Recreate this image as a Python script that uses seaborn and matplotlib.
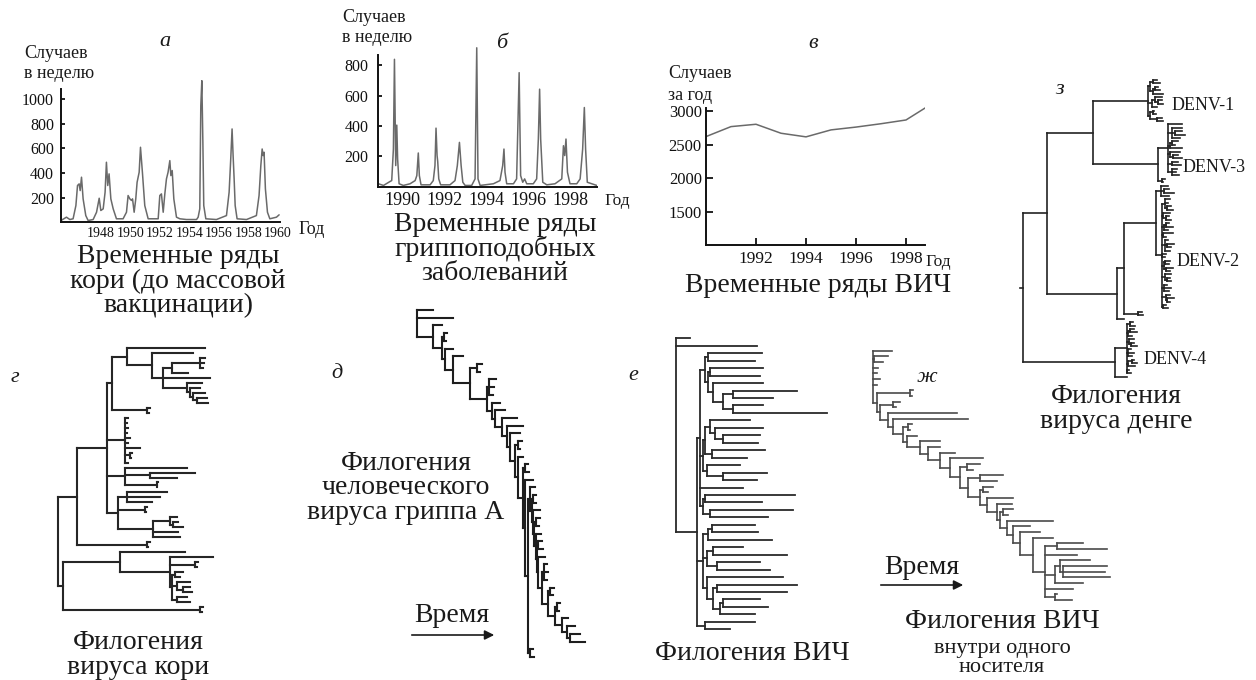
import matplotlib
matplotlib.use("Agg")
import matplotlib.pyplot as plt
from matplotlib.collections import LineCollection
import pandas as pd
import seaborn as sns

# ---------------- data: time series ----------------
measles_year = [1945.30, 1945.67, 1945.90,
                1946.12, 1946.31, 1946.42, 1946.53, 1946.60, 1946.69, 1946.80, 1946.98, 1947.14, 1947.48,
                1947.71, 1947.89, 1948.00, 1948.16, 1948.29, 1948.38, 1948.47, 1948.56, 1948.68, 1948.84, 1949.06,
                1949.51, 1949.74, 1949.85, 1949.97, 1950.08, 1950.15, 1950.26, 1950.37, 1950.46, 1950.60, 1950.69,
                1950.82, 1950.98, 1951.21,
                1951.89, 1952.00, 1952.11, 1952.23, 1952.34, 1952.45, 1952.56, 1952.68, 1952.75, 1952.84, 1952.95,
                1953.13, 1953.36, 1953.81,
                1954.49, 1954.60, 1954.71, 1954.78, 1954.85, 1954.92, 1954.98, 1955.12, 1955.84,
                1956.52, 1956.70, 1956.81, 1956.90, 1956.97, 1957.04, 1957.11, 1957.24, 1957.88,
                1958.55, 1958.73, 1958.85, 1958.94, 1959.01, 1959.07, 1959.16, 1959.30, 1959.46, 1959.91, 1960.09]
measles_cases = [16, 43, 24,
                 30, 137, 299, 312, 258, 366, 191, 56, 16, 24,
                 83, 196, 97, 110, 245, 487, 299, 393, 191, 110, 30,
                 30, 83, 218, 191, 178, 191, 83, 191, 325, 406, 608,
                 406, 137, 30,
                 30, 218, 231, 83, 231, 352, 406, 500, 379, 420, 191,
                 43, 30, 24,
                 24, 43, 110, 944, 1146, 648, 137, 30, 24,
                 56, 245, 514, 756, 541, 352, 137, 30, 24,
                 56, 218, 460, 594, 541, 568, 272, 83, 30, 43, 62]

flu_year = [1988.88, 1989.12, 1989.43, 1989.51, 1989.59, 1989.64, 1989.70, 1989.75, 1989.79, 1989.86, 1990.06,
            1990.38, 1990.62, 1990.70, 1990.77, 1990.82, 1990.90,
            1991.33, 1991.48, 1991.56, 1991.61, 1991.66, 1991.69, 1991.74, 1991.83,
            1992.27, 1992.51, 1992.62, 1992.72, 1992.80, 1992.88, 1992.99,
            1993.30, 1993.46, 1993.54, 1993.60, 1993.70,
            1994.33, 1994.64, 1994.77, 1994.83, 1994.88, 1994.96,
            1995.28, 1995.43, 1995.55, 1995.62, 1995.72, 1995.81, 1995.91,
            1996.22, 1996.38, 1996.46, 1996.52, 1996.57, 1996.67, 1996.86,
            1997.25, 1997.46, 1997.57, 1997.65, 1997.71, 1997.77, 1997.84, 1997.96,
            1998.28, 1998.44, 1998.56, 1998.64, 1998.70, 1998.78, 1999.23]
flu_cases = [18, 7, 33, 39, 247, 839, 138, 405, 182, 18, 7,
             18, 39, 72, 221, 72, 11,
             11, 39, 138, 385, 204, 166, 50, 11,
             11, 39, 138, 291, 138, 28, 7,
             7, 50, 915, 50, 7,
             18, 39, 138, 247, 94, 18,
             18, 50, 751, 72, 28, 50, 18,
             18, 50, 313, 642, 313, 28, 11,
             18, 39, 50, 269, 204, 313, 94, 18,
             18, 50, 247, 521, 247, 28, 7]

hiv_year = [1990, 1991, 1992, 1993, 1994, 1995, 1996, 1997, 1998, 1999]
hiv_cases = [2618, 2767, 2802, 2668, 2614, 2718, 2760, 2810, 2866, 3100]

# ---------------- data: trees (Newick, branch lengths) ----------------
MEASLES_W = "(((:1.5,:1.2,:1):8.5,:5):2.5,:14,(:4.5,(:3,(:3.5,(:3,:3.5):1):1):1):7):3.5"
MEASLES_V = "(:12.5," + MEASLES_W + "):7.5"
MEASLES_U = "(:23.5," + MEASLES_V + "):4.5"
MEASLES_T = "(" + MEASLES_U + ",(:1,:0.8):10.5):1.5"
MEASLES_M1 = "(:1,:0.6,:0.9,:0.5,:1.6,:1,:4.5,(:0.6,:0.4):1.5,:0.8):5.5"
MEASLES_M2 = "(:18.5,(:13.5,:8):7.5,(:0.4,:0.2):9.5):5.5"
MEASLES_M3 = "((:12,:10,:7.5):2.5,(:0.6,:0.3):8,((:2,(:1.5,:3):1):5,:7.5,:8):10.5):3.5"
MEASLES_A = ("((" + MEASLES_T + "," + MEASLES_M1 + "," + MEASLES_M2 + "," + MEASLES_M3 + "):9,"
             "(:1,:0.5):21):5.5")
MEASLES_B = ("((:19.5,(:13,(:0.8,:0.6):7.5,((:2.5,:1.5):1,(:4,(:2,:2.5):2):1.5,(:3,:4):1.5):0.5):15):17,"
             "(:1,:0.6):41):1.5")
MEASLES_TREE = "(" + MEASLES_A + "," + MEASLES_B + ")"

FLU_STEPS = [(":5,:11", 5), (":2.5", 2.5), ("(:1,:0.8):0.6", 1), (":2.5", 2.5), (":3", 5),
             ("(:1.5,:1):2", 5), ("(:2,:1.5,:1.2):0.8", 1.5), (":2.5", 1), (":3", 2), (":4.5", 1.5),
             (":5", 1), (":3", 1.5), ("(:1.2,:0.8):0.8", 1), (":1.5", 1.5), ("(:1,:1.3):0.5", 0.5),
             (":2.5", 1)]
FLU_TAIL_STEPS = [(":1.5", 0.5), ("(:0.8,:1):0.4", 0.5), (":2", 0.3), ("(:1,:0.8):0.6", 0.4),
                  (":1.5", 0.3), ("(:1.2,:1.5):0.5", 0.5), (":2", 1), ("(:1,:1.4,:0.9):0.6", 2),
                  ("(:1.2,:0.8):0.5", 2), ("(:1,:0.7):0.6", 2), (":2", 1.5)]
FLU_TAIL_END = "(:2.5,(:3,:4.5):1)"
FLU_BOTTOM = "(:0.8,:1.2):0.6"

HIV_A1 = "((:1.6,:1.4):0.1,((:1.6,:1.5):0.05,(:1.5,((:1.9,:1.2):0.3,(:0.9,:2.8):0.3):0.3):0.15):0.1):0.15"
HIV_A2 = "(((:1.2,(:1.45,(:1.1,:1.05):0.25):0.15):0.15,(:1.6,:1.05):0.2):0.05,(:1.0,(:1.3,:1.0):0.5):0.1):0.1"
HIV_A3 = "((:2.7,:1.7):0.05,(:2.5,:1.75):0.2):0.1"
HIV_B = ("(((:1.3,:1.4):0.1,:1.9):0.15,((:0.9,:2.2):0.2,(:1.3,:1.6):0.3):0.1,"
         "(:2.3,((:2.4,:2.1):0.1,((:1.1,:1.35):0.1,:1.05):0.2):0.2):0.1):0.2")
HIV_C = "(:1.5,:0.75):0.25"
HIV_TREE = ("(:0.42,:2.42,((" + HIV_A1 + "," + HIV_A2 + ",:1.3," + HIV_A3 + "):0.1,"
            + HIV_B + "," + HIV_C + "):0.62)")

HOST_STEPS = [(":5.5,(:4,:2.5):0.3,:1.5,:1,:2,:1", 1), ("(:1,:0.5):10", 1), ("(:2,:0.8):4", 2.5),
              (":20.5", 1.5), (":22.5", 3), ("(:1,:0.6):1.5", 1), (":3", 4), (":6", 2.5), (":3.5", 3.5),
              (":4.5", 3), (":10", 3), ("(:4,:2):2", 2.5), ("(:7,:5):3.5", 3.5), ("(:3,:1.5):1", 2),
              (":8", 3), (":4.5", 1), ("(:3,:1.5):1", 2), (":14", 2), (":5", 2), (":6", 4)]
HOST_END = "(:6,((:8,:15):3.5,:9.5,((:9,(:13,:12.5,:14):1):1.5,:8.5):3,:8.5,(:0.5,:5):3):3.5)"

DENV1 = ("(((:0.12,:0.2):0.1,((:0.1,:0.15):0.05,:0.3):0.1):0.05,((:0.2,(:0.1,:0.15):0.1):0.1,:0.15):0.1,"
         "((:0.05,:0.1):0.08,(:0.15,:0.2):0.2):0.05):1.65")
DENV3 = ("((:0.4,(:0.3,(:0.2,:0.3):0.1,:0.25):0.1,((:0.2,:0.1):0.05,:0.35):0.05,(:0.3,(:0.15,:0.25):0.1):0.05,"
         "(:0.2,:0.28):0.1,(:0.15,:0.1,:0.2):0.12):0.3,(:0.1,:0.05):0.1):1.95")
DENV2_TWIGS = ("(:0.15,:0.1,(:0.12,:0.2):0.05):0.1,(:0.2,(:0.1,:0.15):0.08):0.05,((:0.1,:0.22):0.05,:0.12):0.08,"
               "(:0.3,:0.1):0.04,(:0.1,(:0.2,:0.12):0.06,:0.15):0.1,(:0.12,:0.08):0.02,"
               "((:0.15,:0.1):0.05,(:0.2,:0.1):0.08):0.06,(:0.18,(:0.1,:0.14):0.05):0.1,(:0.1,:0.2,:0.15):0.07,"
               "(:0.12,(:0.2,:0.1):0.04):0.12,(:0.08,:0.15):0.05")
DENV2 = "((:0.2,(:0.15,:0.3):0.1,:0.25):0.15,(" + DENV2_TWIGS + "):0.17):0.95"
DENV4 = ("(((:0.1,:0.15):0.1,((:0.12,:0.2):0.05,:0.1):0.05,(:0.15,(:0.1,:0.18):0.05):0.08,(:0.1,:0.2,:0.12):0.03,"
         "((:0.08,:0.15):0.1,:0.2):0.05,(:0.05,:0.1):0.02):0.35,:0.35):2.75")
DENGUE_TREE = ("(((" + DENV1 + "," + DENV3 + "):1.4,((" + DENV2 + ",(:0.12,:0.17):0.4):0.23,:0.22):2.1):0.7,"
               + DENV4 + "):0.1")

dengue_labels = ["DENV-1", "DENV-3", "DENV-2", "DENV-4"]


# ---------------- helpers ----------------
def ladder(steps, terminal):
    s = terminal
    for sides, t in reversed(steps):
        s = "(" + sides + "," + s + ":" + str(t) + ")"
    return s


def parse_newick(s):
    s = s.strip().rstrip(";")
    pos = [0]

    def node():
        children = []
        if s[pos[0]] == "(":
            pos[0] += 1
            children.append(node())
            while s[pos[0]] == ",":
                pos[0] += 1
                children.append(node())
            pos[0] += 1  # ')'
        length = 0.0
        if pos[0] < len(s) and s[pos[0]] == ":":
            pos[0] += 1
            start = pos[0]
            while pos[0] < len(s) and s[pos[0]] not in ",)":
                pos[0] += 1
            length = float(s[start:pos[0]])
        return {"len": length, "children": children}

    return node()


def tree_segments(tree, x_start):
    counter = [0]
    segs = []

    def rec(n, px):
        x = px + n["len"]
        if n["children"]:
            ys = [rec(c, x) for c in n["children"]]
            y = (ys[0] + ys[-1]) / 2.0
            segs.append([(x, ys[0]), (x, ys[-1])])
        else:
            y = counter[0]
            counter[0] += 1
        if n["len"] > 0:
            segs.append([(px, y), (x, y)])
        return y

    rec(tree, x_start)
    return segs, counter[0]


W, H = 1256, 680
fig = plt.figure(figsize=(W / 100, H / 100), dpi=100)
sns.set_theme(style="white")
plt.rcParams["font.family"] = ["Liberation Serif", "DejaVu Serif"]
fig.patch.set_facecolor("white")


def rect(x0, y0, x1, y1):
    return [x0 / W, 1 - y1 / H, (x1 - x0) / W, (y1 - y0) / H]


def style_ts(ax, xlim, ylim, ytop, xticks, yticks, xfs, yfs, xpad, ypad, xlen, ylen):
    ax.set_xlim(*xlim)
    ax.set_ylim(*ylim)
    for s in ["top", "right"]:
        ax.spines[s].set_visible(False)
    for s in ["left", "bottom"]:
        ax.spines[s].set_color("#111111")
        ax.spines[s].set_linewidth(1.4)
    ax.spines["left"].set_bounds(ylim[0], ytop)
    ax.set_xticks(xticks)
    ax.set_yticks(yticks)
    ax.tick_params(axis="x", labelsize=xfs, pad=xpad, length=xlen, direction="in", width=1.3,
                   color="#111111", labelcolor="#111111", bottom=True)
    ax.tick_params(axis="y", labelsize=yfs, pad=ypad, length=ylen, direction="in", width=1.3,
                   color="#111111", labelcolor="#111111", left=True)
    ax.set_xlabel("")
    ax.set_ylabel("")
    ax.set_facecolor("none")
    ax.grid(False)


LINE_GREY = "#6a6a6a"

# panel a: measles
ax_a = fig.add_axes(rect(61, 80.2, 280, 222.5))
sns.lineplot(data=pd.DataFrame({"year": measles_year, "cases": measles_cases}), x="year", y="cases",
             ax=ax_a, color=LINE_GREY, linewidth=1.1, estimator=None)
style_ts(ax_a, (1945.3, 1960.15), (0, 1150), 1080, list(range(1948, 1961, 2)), [200, 400, 600, 800, 1000],
         10, 11.5, 3, 5, 0, 3)

# panel b: influenza-like illness
ax_b = fig.add_axes(rect(378, 44, 597, 186.5))
sns.lineplot(data=pd.DataFrame({"year": flu_year, "cases": flu_cases}), x="year", y="cases",
             ax=ax_b, color=LINE_GREY, linewidth=1.1, estimator=None)
style_ts(ax_b, (1988.86, 1999.24), (0, 940), 870, list(range(1990, 1999, 2)), [200, 400, 600, 800],
         13, 11.5, 4, 7, 0, 3)

# panel c: HIV
ax_c = fig.add_axes(rect(706, 104.3, 925, 245))
sns.lineplot(data=pd.DataFrame({"year": hiv_year, "cases": hiv_cases}), x="year", y="cases",
             ax=ax_c, color=LINE_GREY, linewidth=1.1, estimator=None)
style_ts(ax_c, (1990, 1998.76), (1000, 3100), 3040, [1992, 1994, 1996, 1998], [1500, 2000, 2500, 3000],
         12.5, 12, 4, 3, 5, 5)


# ---------------- trees ----------------
def draw_tree(newick, x_start, xlim, box, color, lw):
    tree = parse_newick(newick)
    segs, n = tree_segments(tree, x_start)
    ax = fig.add_axes(rect(*box))
    ax.set_xlim(*xlim)
    ax.set_ylim(n - 1, 0)
    ax.axis("off")
    lc = LineCollection(segs, colors=color, linewidths=lw, capstyle="projecting", clip_on=False)
    ax.add_collection(lc)
    return ax


draw_tree(MEASLES_TREE, 17.5, (17.5, 64.5), (58.3, 348, 215, 612), "#262626", 1.5)
FLU_TREE = ladder(FLU_STEPS, "(" + ladder(FLU_TAIL_STEPS, FLU_TAIL_END) + ":0.5," + FLU_BOTTOM + ")")
draw_tree(FLU_TREE, 47, (47, 97.5), (416.7, 310, 585, 657), "#1e1e1e", 1.5)
draw_tree(HIV_TREE, 2.28, (2.28, 6.8), (676, 338.3, 826.7, 629.3), "#2a2a2a", 1.3)
HOST_TREE = ladder(HOST_STEPS, HOST_END)
draw_tree(HOST_TREE, 4, (4, 76), (873.3, 350.7, 1113.3, 600), "#4a4a4a", 1.2)
draw_tree(DENGUE_TREE, 1.2, (1.2, 6.0), (1020, 80, 1180, 376.7), "#222222", 1.2)

# ---------------- texts (pixel overlay) ----------------
ov = fig.add_axes([0, 0, 1, 1])
ov.set_xlim(0, W)
ov.set_ylim(H, 0)
ov.axis("off")
TXT = "#1a1a1a"


def T(x, y, s, size, ha="center", italic=False, ls=0.95):
    ov.text(x, y, s, fontsize=size, ha=ha, va="center", color=TXT, multialignment="center",
            linespacing=ls, fontstyle="italic" if italic else "normal")


CAP = 20
LET = 16
# a
T(165, 42, "а", LET, italic=True)
T(24, 53, "Случаев", 13, ha="left")
T(24, 73, "в неделю", 13, ha="left")
T(312, 230, "Год", 13)
T(178, 281, "Временные ряды\nкори (до массовой\nвакцинации)", CAP)
# b
T(502, 43, "б", LET, italic=True)
T(342, 18, "Случаев", 13, ha="left")
T(342, 38, "в неделю", 13, ha="left")
T(617, 201, "Год", 12.5)
T(495, 249, "Временные ряды\nгриппоподобных\nзаболеваний", CAP)
# c
T(813, 43, "в", LET, italic=True)
T(668, 74, "Случаев", 13, ha="left")
T(668, 95, "за год", 13, ha="left")
T(925, 262, "Год", 12.5, ha="left")
T(818, 285, "Временные ряды ВИЧ", CAP)
# dengue
T(1060, 89, "з", LET, italic=True)
for lab, (lx, ly) in zip(dengue_labels, [(1172, 105), (1183, 167), (1177, 262), (1144, 359)]):
    T(lx, ly, lab, 13, ha="left")
T(1116, 409, "Филогения\nвируса денге", CAP)
# measles tree
T(138, 655, "Филогения\nвируса кори", CAP)
T(15, 377, "г", LET, italic=True)
# flu tree
T(337, 373, "д", LET, italic=True)
T(406, 488, "Филогения\nчеловеческого\nвируса гриппа А", CAP)
T(452, 615, "Время", CAP)
ov.annotate("", xy=(497, 635), xytext=(409, 635),
            arrowprops=dict(arrowstyle="-|>", color=TXT, lw=1.2, mutation_scale=14))
# HIV tree
T(633, 375, "е", LET, italic=True)
T(752, 653, "Филогения ВИЧ", CAP)
# within-host tree
T(927, 377, "ж", LET, italic=True)
T(922, 567, "Время", CAP)
ov.annotate("", xy=(966, 585), xytext=(878, 585),
            arrowprops=dict(arrowstyle="-|>", color=TXT, lw=1.2, mutation_scale=14))
T(1002, 622, "Филогения ВИЧ", CAP)
T(1002, 658, "внутри одного\nносителя", 16, ls=1.0)

fig.savefig("out.png", dpi=100, facecolor="white")
